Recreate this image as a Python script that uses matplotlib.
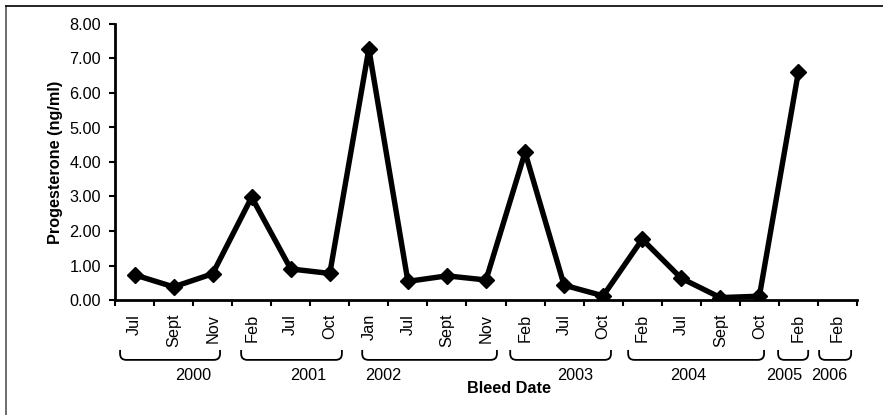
import numpy as np
import matplotlib.pyplot as plt
from matplotlib.path import Path
from matplotlib.patches import PathPatch
import matplotlib.transforms as mtransforms
from matplotlib.lines import Line2D

plt.rcParams['font.family'] = ['Liberation Sans', 'DejaVu Sans']

# bleed dates (month labels) and progesterone values (ng/ml)
months = ['Jul', 'Sept', 'Nov', 'Feb', 'Jul', 'Oct', 'Jan', 'Jul', 'Sept', 'Nov',
          'Feb', 'Jul', 'Oct', 'Feb', 'Jul', 'Sept', 'Oct', 'Feb', 'Feb']
progesterone = [0.73, 0.38, 0.76, 2.98, 0.90, 0.77, 7.28, 0.54, 0.70, 0.58,
                4.28, 0.43, 0.12, 1.76, 0.63, 0.07, 0.11, 6.62, np.nan]

# year groups: label and the span of the bracket under the month labels
years = ['2000', '2001', '2002', '2003', '2004', '2005', '2006']
year_start = [-0.37, 2.73, 5.83, 9.62, 12.64, 16.48, 17.53]
year_end = [2.19, 5.31, 9.28, 12.20, 16.12, 17.25, 18.35]
year_label_x = [1.50, 4.45, 6.37, 11.28, 14.17, 16.63, 17.80]

fs = 11.7

fig = plt.figure(figsize=(8.83, 4.15), dpi=100)
ax = fig.add_axes([115 / 883, 1 - 300 / 415, (857 - 115) / 883, 276 / 415])

x = np.arange(len(months))
ax.plot(x, progesterone, color='black', linewidth=3.9, marker='D',
        markersize=8, markerfacecolor='black', markeredgecolor='black')

ax.set_xlim(-0.5, len(months) - 0.5)
ax.set_ylim(0, 8)
ax.set_yticks(np.arange(0, 9, 1))
ax.set_yticklabels(['%.2f' % v for v in np.arange(0, 9, 1)], fontsize=fs)

# boundaries as major ticks, labels on minor ticks at the centres
ax.set_xticks(np.arange(-0.5, len(months), 1))
ax.set_xticklabels([])
ax.set_xticks(x, minor=True)
ax.set_xticklabels(months, minor=True, rotation=90, fontsize=fs)
ax.tick_params(axis='x', which='major', direction='out', length=4, width=1.5)
ax.tick_params(axis='x', which='minor', length=0, pad=10)
ax.tick_params(axis='y', direction='out', length=4, width=1.5, pad=6)

for s in ['top', 'right']:
    ax.spines[s].set_visible(False)
for s in ['left', 'bottom']:
    ax.spines[s].set_linewidth(2)

ax.set_ylabel('Progesterone (ng/ml)', fontsize=fs, fontweight='bold', labelpad=5)

# brackets under the month labels
trans = mtransforms.blended_transform_factory(ax.transData, ax.transAxes)
top, bot = -0.181, -0.217
rx, ry = 0.16, 0.022
for x0, x1 in zip(year_start, year_end):
    verts = [(x0, top), (x0, bot + ry), (x0, bot), (x0 + rx, bot),
             (x1 - rx, bot), (x1, bot), (x1, bot + ry), (x1, top)]
    codes = [Path.MOVETO, Path.LINETO, Path.CURVE3, Path.CURVE3,
             Path.LINETO, Path.CURVE3, Path.CURVE3, Path.LINETO]
    ax.add_patch(PathPatch(Path(verts, codes), transform=trans, fill=False,
                           edgecolor='black', linewidth=1.3, clip_on=False))

for lab, xl in zip(years, year_label_x):
    ax.text(xl, -0.272, lab, transform=trans, ha='center', va='center', fontsize=fs)

ax.text(9.6, -0.322, 'Bleed Date', transform=trans, ha='center', va='center',
        fontsize=fs, fontweight='bold')

# chart frame (left and top edges)
fig.add_artist(Line2D([6 / 883, 6 / 883], [0, 1 - 6 / 415], color='#555555', linewidth=1.2))
fig.add_artist(Line2D([6 / 883, 1], [1 - 6 / 415, 1 - 6 / 415], color='black', linewidth=1.2))

fig.savefig('out.png', dpi=100)
